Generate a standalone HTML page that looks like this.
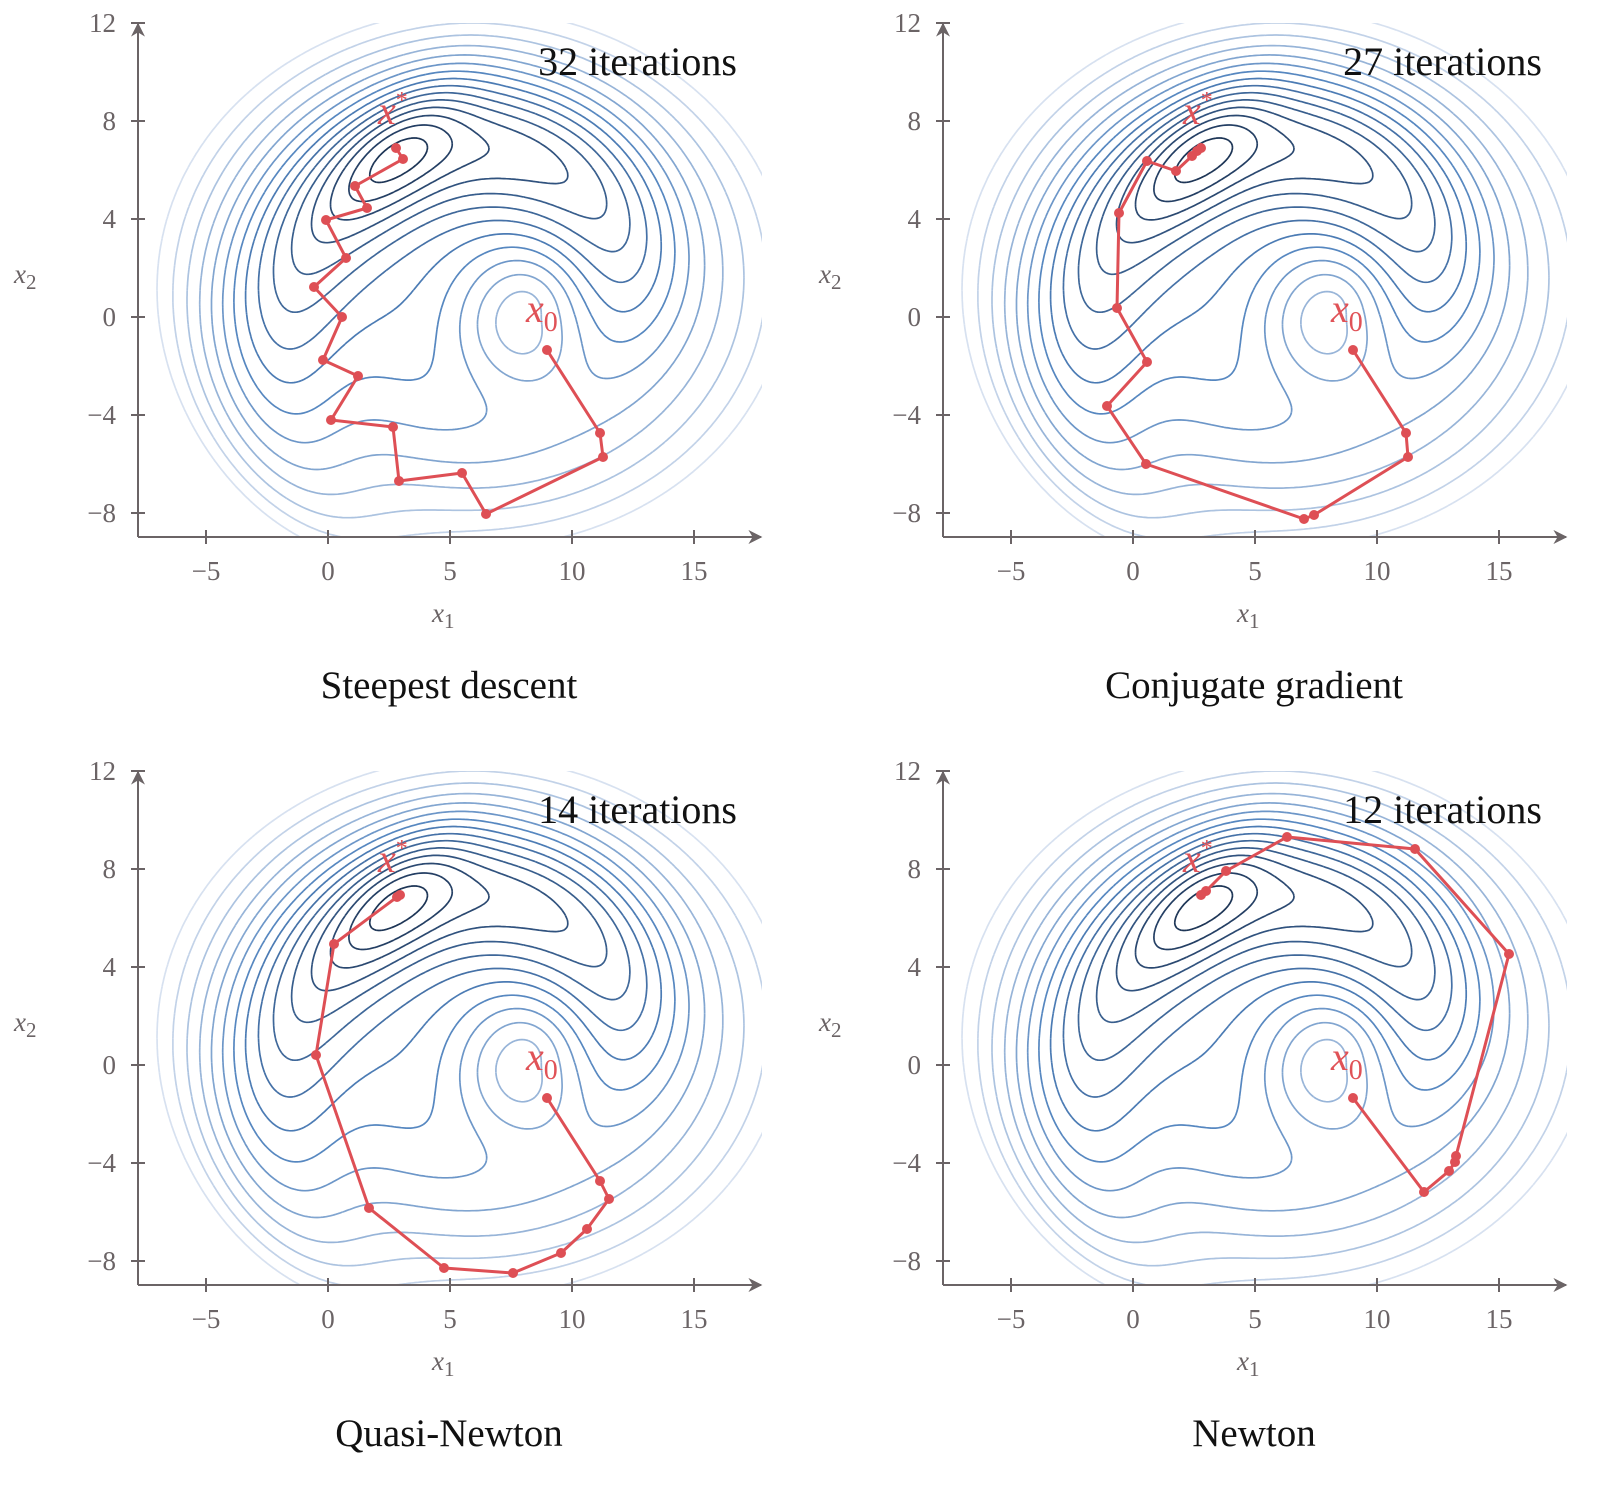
<!DOCTYPE html>
<html><head><meta charset="utf-8">
<style>
html,body{margin:0;padding:0;background:#fff;}
svg{display:block;}
.tk{font-family:"Liberation Serif",serif;font-size:27px;fill:#6b6466;}
.ax{stroke:#6b6466;stroke-width:2;fill:none;}
.it{font-family:"Liberation Serif",serif;font-size:40px;fill:#111;}
.ti{font-family:"Liberation Serif",serif;font-size:39px;fill:#111;text-anchor:middle;}
.rl{font-family:"Liberation Serif",serif;font-style:italic;fill:#e05257;}
.pth{stroke:#de4f55;stroke-width:3;fill:none;stroke-linejoin:round;}
.dot{fill:#de4f55;}
</style></head>
<body>
<svg id="s" width="1610" height="1509" viewBox="0 0 1610 1509" xmlns="http://www.w3.org/2000/svg">
<defs>
<clipPath id="cp"><rect x="138" y="23" width="624" height="514"/></clipPath>
<marker id="ar" viewBox="0 0 10 10" refX="9" refY="5" markerWidth="14" markerHeight="14" markerUnits="userSpaceOnUse" orient="auto"><path d="M0,0 L10,5 L0,10 L3,5 z" fill="#6b6466"/></marker>
<g id="cont" clip-path="url(#cp)"></g>
</defs>
</svg>
<script>
(function(){
var NS="http://www.w3.org/2000/svg";
var svg=document.getElementById('s');
var cont=document.getElementById('cont');
function px(x){return 328+24.4*x;} function py(y){return 317-24.5*y;}
var xs=2.8,ys=6.8,th0=Math.atan2(6.8,-5.2);
function f(x,y){
 var dx=x-8,dy=y,r=Math.sqrt(dx*dx+dy*dy),th=Math.atan2(dy,dx);
 var B=Math.pow((x-6)/13.5,2)+Math.pow((y-1.5)/11.5,2);
 var ph=th-th0-0.3*(r-8.6);
 var c=(1+Math.cos(ph))/2;
 var W=-0.75*Math.exp(-Math.pow(r-7.8,2)/22)*c*c*c;
 var ex=x-xs,ey=y-ys;
 var u=(ex+ey)/1.414,v=(ey-ex)/1.414;
 var W2=-0.35*Math.exp(-(u*u/12+v*v/3));
 var Bp=0.6*Math.exp(-r*r/9);
 return B+W+W2+Bp;
}
var x0=-8,x1=18,y0=-9.5,y1=12.5,N=260,M=220;
var dx=(x1-x0)/N,dy=(y1-y0)/M,G=[],mn=1e9;
for(var j=0;j<=M;j++){G[j]=[];for(var i=0;i<=N;i++){var v=f(x0+i*dx,y0+j*dy);G[j][i]=v;if(v<mn)mn=v;}}
var lmax=0.95,NL=15;
for(var k=0;k<NL;k++){
 var L=mn+(lmax-mn)*(k+0.6)/NL;
 var t=k/(NL-1);
 var c1=[28,52,85],c2=[215,225,240],c3=[80,130,190];
 var col;
 if(t<0.55){var s=t/0.55;col=c1.map(function(a,n){return Math.round(a+(c3[n]-a)*s);});}
 else{var s=(t-0.55)/0.45;col=c3.map(function(a,n){return Math.round(a+(c2[n]-a)*s);});}
 var d=[];
 for(var j=0;j<M;j++)for(var i=0;i<N;i++){
  var a=G[j][i],b=G[j][i+1],c=G[j+1][i+1],e=G[j+1][i];
  var X=x0+i*dx,Y=y0+j*dy,pts=[];
  function ed(p,q,ax,ay,bx,by){var s=(L-p)/(q-p);pts.push([ax+(bx-ax)*s,ay+(by-ay)*s]);}
  if((a<L)!=(b<L))ed(a,b,X,Y,X+dx,Y);
  if((b<L)!=(c<L))ed(b,c,X+dx,Y,X+dx,Y+dy);
  if((c<L)!=(e<L))ed(c,e,X+dx,Y+dy,X,Y+dy);
  if((e<L)!=(a<L))ed(e,a,X,Y+dy,X,Y);
  for(var q=0;q+1<pts.length;q+=2){
   d.push('M'+px(pts[q][0]).toFixed(1)+' '+py(pts[q][1]).toFixed(1)+'L'+px(pts[q+1][0]).toFixed(1)+' '+py(pts[q+1][1]).toFixed(1));
  }
 }
 var p=document.createElementNS(NS,'path');
 p.setAttribute('d',d.join(''));p.setAttribute('fill','none');
 p.setAttribute('stroke','rgb('+col.join(',')+')');p.setAttribute('stroke-width','1.7');
 cont.appendChild(p);
}
function el(par,tag,at,txt){var e=document.createElementNS(NS,tag);for(var k in at)e.setAttribute(k,at[k]);if(txt!=null)e.textContent=txt;par.appendChild(e);return e;}
var panels=[
 {ox:0,oy:0,it:"32 iterations",ti:"Steepest descent",p:[[547,350],[600,433],[603,457],[486,514],[462,473],[399,481],[393,427],[331,420],[358,376],[323,360],[342,317],[314,287],[346,258],[326,220],[367,208],[355,186],[403,159],[396,148]]},
 {ox:805,oy:0,it:"27 iterations",ti:"Conjugate gradient",p:[[548,350],[601,433],[603,457],[509,515],[499,519],[341,464],[302,406],[342,362],[312,308],[314,213],[342,161],[371,171],[387,156],[392,151],[396,148]]},
 {ox:0,oy:748,it:"14 iterations",ti:"Quasi-Newton",p:[[547,350],[600,433],[609,451],[587,481],[561,505],[513,525],[444,520],[369,460],[316,307],[334,196],[397,149],[400,147]]},
 {ox:805,oy:748,it:"12 iterations",ti:"Newton",p:[[548,350],[619,444],[644,423],[650,414],[651,408],[704,206],[610,101],[482,89],[421,123],[401,143],[396,147]]}
];
panels.forEach(function(P){
 var g=el(svg,'g',{transform:'translate('+P.ox+','+P.oy+')'});
 el(g,'use',{href:'#cont'});
 el(g,'line',{x1:138,y1:537,x2:138,y2:24,'class':'ax','marker-end':'url(#ar)'});
 el(g,'line',{x1:138,y1:537,x2:761,y2:537,'class':'ax','marker-end':'url(#ar)'});
 [-8,-4,0,4,8,12].forEach(function(v){var y=py(v);el(g,'line',{x1:131,y1:y,x2:145,y2:y,'class':'ax'});
  el(g,'text',{x:116,y:y+9,'class':'tk','text-anchor':'end'},(v<0?'\u2212':'')+Math.abs(v));});
 [-5,0,5,10,15].forEach(function(v){var x=px(v);el(g,'line',{x1:x,y1:530,x2:x,y2:544,'class':'ax'});
  el(g,'text',{x:x,y:580,'class':'tk','text-anchor':'middle'},(v<0?'\u2212':'')+Math.abs(v));});
 var t=el(g,'text',{x:432,y:622,'class':'tk','font-style':'italic','font-size':'30'},'x');el(t,'tspan',{'font-size':'21',dy:'6','font-style':'normal'},'1');
 t=el(g,'text',{x:14,y:283,'class':'tk','font-style':'italic','font-size':'30'},'x');el(t,'tspan',{'font-size':'21',dy:'6','font-style':'normal'},'2');
 el(g,'text',{x:737,y:75,'class':'it','text-anchor':'end'},P.it);
 el(g,'text',{x:449,y:698,'class':'ti'},P.ti);
 t=el(g,'text',{x:378,y:124,'class':'rl','font-size':'40'},'x');el(t,'tspan',{'font-size':'24',dy:'-16','font-style':'normal'},'*');
 t=el(g,'text',{x:526,y:322,'class':'rl','font-size':'40'},'x');el(t,'tspan',{'font-size':'28',dy:'9','font-style':'normal'},'0');
 el(g,'polyline',{points:P.p.map(function(q){return q.join(',');}).join(' '),'class':'pth'});
 P.p.forEach(function(q){el(g,'circle',{cx:q[0],cy:q[1],r:5,'class':'dot'});});
});
})();
</script>
</body></html>
